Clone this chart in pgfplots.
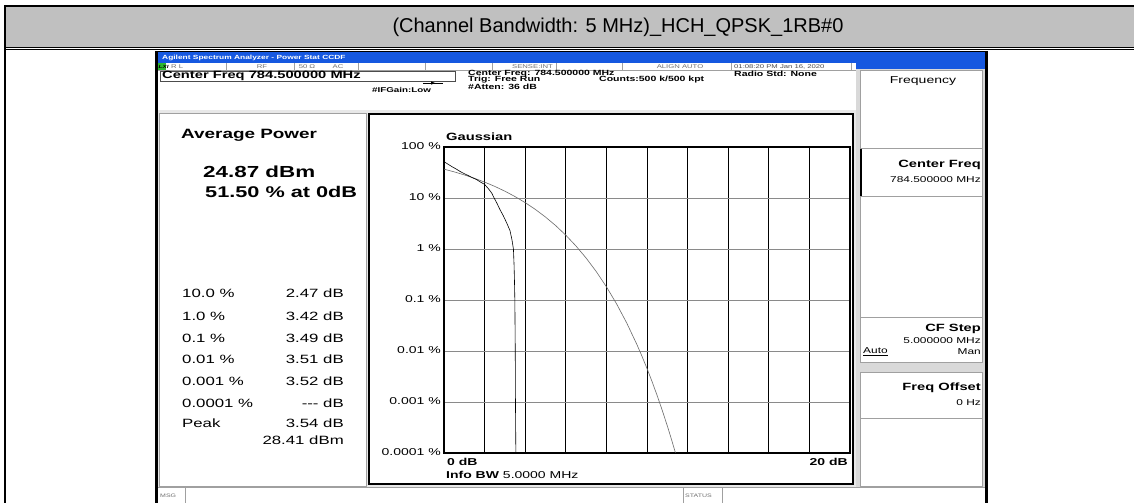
\documentclass[border=0pt]{standalone}
\usepackage{fontspec}
\setmainfont{Liberation Sans}
\newfontfamily\sw[FakeStretch=1.4]{Liberation Sans}
\usepackage{pgfplots}
\pgfplotsset{compat=1.18}
\newcommand{\fs}[1]{\fontsize{#1}{#1}\selectfont}
\definecolor{band}{HTML}{C0C0C0}
\definecolor{xpblue}{HTML}{1658E0}
\definecolor{panelgray}{HTML}{A0A0A0}
\definecolor{bggray}{HTML}{E8E8E8}
\definecolor{gridgray}{HTML}{8A8A8A}
\definecolor{gauss}{HTML}{6A6A6A}
\definecolor{stat}{HTML}{707070}
\definecolor{lxi}{HTML}{2EB82E}

\pgfplotstableread{
x y
0 51.5
0.2 46
0.4 41
0.6 37
0.8 33
1.0 30
1.2 27.5
1.4 25
1.6 23
1.8 20.5
2.0 18.5
2.2 15
2.35 12.5
2.47 10
2.6 8
2.75 6
2.92 4.5
3.08 3.3
3.25 2.3
3.35 1.5
3.42 1.0
3.45 0.5
3.47 0.25
3.49 0.1
3.51 0.01
3.52 0.001
3.54 0.0001
11.4 0.0001
}\measured

\pgfplotstableread{
x y
0 36.79
0.5 32.56
1 28.40
1.5 24.35
2 20.49
2.5 16.90
3 13.60
3.5 10.66
4 8.11
4.5 5.97
5 4.23
5.5 2.88
6 1.867
6.5 1.148
7 0.666
7.5 0.361
8 0.1817
8.5 0.0842
9 0.0355
9.5 0.01347
9.75 0.00794
10 0.00454
10.25 0.00251
10.5 0.001338
10.75 0.000689
11 0.000341
11.2 0.000188
11.4 0.000101
}\gaussian

\begin{document}
\begin{tikzpicture}
\path[use as bounding box] (0pt,0pt) rectangle (1134pt,-503pt);
\begin{scope}[x=1pt,y=-1pt]
% table
\fill[white] (0,0) rectangle (1134,503);
\fill[band] (5,6) rectangle (1134,48);
\draw[line width=2pt] (4,6) -- (1134,6);
\draw[line width=1pt] (5,47.5)--(1134,47.5);
\draw[line width=1pt] (5,50)--(1134,50);
\draw[line width=2pt] (5,5)--(5,503);
\node[font=\fs{20}] at (618,27.5) {(Channel Bandwidth: 5 MHz)\_HCH\_QPSK\_1RB\#0};
% screenshot frame
\fill[black] (155,51) rectangle (988,503);
\fill[white] (158,52) rectangle (985,503);
\fill[xpblue] (158,52) rectangle (985,63);
\fill[xpblue] (856,63) rectangle (985,69);
\node[anchor=west,inner sep=0pt,text=white] at (162,57.5) {\sw\bfseries\fs{6}Agilent Spectrum Analyzer - Power Stat CCDF};
% status row
\fill[lxi] (158,63) rectangle (166,70);
\node[anchor=west,inner sep=0pt] at (158.5,66.5) {\sw\bfseries\itshape\fs{4.5}LXI};
\draw[panelgray,line width=0.5pt] (158,70)--(856,70);
\foreach \xx in {226,294,358,425,492,556,622,731,851}{\draw[panelgray,line width=0.5pt] (\xx,63)--(\xx,70);}
\begin{scope}[every node/.style={inner sep=0pt,text=stat}]
\node[anchor=west] at (171,66.5) {\sw\fs{5.5}R L};
\node at (262,66.5) {\sw\fs{5.5}RF};
\node at (307,66.5) {\sw\fs{5.5}50 Ω};
\node at (338,66.5) {\sw\fs{5.5}AC};
\node[anchor=east] at (553,66.5) {\sw\fs{5.5}SENSE:INT};
\node at (680,66.5) {\sw\fs{5.5}ALIGN AUTO};
\node[anchor=west,text=black!70] at (734,66.5) {\sw\fs{5.5}01:08:20 PM Jan 16, 2020};
\end{scope}
% center freq box
\draw[black!70,line width=0.7pt] (160,71) rectangle (455,81.5);
\node[anchor=west,inner sep=0pt] at (162,76.3) {\sw\bfseries\fs{10.5}Center Freq 784.500000 MHz};
\begin{scope}[every node/.style={inner sep=0pt,anchor=west}]
\node at (468,73.5) {\sw\bfseries\fs{7.5}Center Freq: 784.500000 MHz};
\node at (468,80) {\sw\bfseries\fs{7.5}Trig: Free Run};
\node at (468,86.5) {\sw\bfseries\fs{7.5}\#Atten: 36 dB};
\node at (599,80) {\sw\bfseries\fs{7.5}Counts:500 k/500 kpt};
\node at (734,73.5) {\sw\bfseries\fs{7.5}Radio Std: None};
\node at (372,89.5) {\sw\bfseries\fs{7}\#IFGain:Low};
\end{scope}
\draw[line width=0.6pt] (423,83)--(443,83);
\fill (431,81.3)--(435,83)--(431,84.7)--cycle;
% lower area
\fill[bggray] (158,110) rectangle (856,487);
% left panel
\filldraw[fill=white,draw=panelgray,line width=0.8pt] (159.5,113.5) rectangle (366,486);
\begin{scope}[every node/.style={inner sep=0pt}]
\node[anchor=west] at (181,135) {\sw\bfseries\fs{13.5}Average Power};
\node[anchor=west] at (203,172) {\sw\bfseries\fs{16}24.87 dBm};
\node[anchor=west] at (205,192) {\sw\bfseries\fs{15.5}51.50 \% at 0dB};
\foreach \yy/\la/\lb in {293/10.0 \%/2.47 dB, 316/1.0 \%/3.42 dB, 338/0.1 \%/3.49 dB, 359/0.01 \%/3.51 dB, 381/0.001 \%/3.52 dB, 403/0.0001 \%/{{-}{-}{-} dB}, 423/Peak/3.54 dB}{
  \node[anchor=west] at (182,\yy) {\sw\fs{12}\la};
  \node[anchor=east] at (344,\yy) {\sw\fs{12}\lb};
}
\node[anchor=east] at (344,440) {\sw\fs{12}28.41 dBm};
\end{scope}
% graph frame
\filldraw[fill=white,draw=black,line width=2.5pt] (369,114) rectangle (853,484);
\node[anchor=west,inner sep=0pt] at (446,137) {\sw\bfseries\fs{10.5}Gaussian};
\node[anchor=west,inner sep=0pt] at (447,462) {\sw\bfseries\fs{10}0 dB};
\node[anchor=east,inner sep=0pt] at (848,462) {\sw\bfseries\fs{10}20 dB};
\node[anchor=west,inner sep=0pt] at (446,474.5) {\sw\fs{10}\textbf{Info BW} 5.0000 MHz};
% right panel
\fill[black!15] (856,69) rectangle (985,487);
\foreach \ya/\yb in {70/148,148/196,196/317,317/362,372/418,418/486}{
  \filldraw[fill=white,draw=panelgray,line width=0.8pt] (860,\ya) rectangle (982.5,\yb);
}
\draw[black,line width=2pt] (861,148.5)--(861,195.5);
\begin{scope}[every node/.style={inner sep=0pt}]
\node at (923,81) {\sw\fs{10}Frequency};
\node[anchor=east] at (981,165) {\sw\bfseries\fs{10.5}Center Freq};
\node[anchor=east] at (981,180) {\sw\fs{8.5}784.500000 MHz};
\node[anchor=east] at (981,329) {\sw\bfseries\fs{10.5}CF Step};
\node[anchor=east] at (981,341) {\sw\fs{8.5}5.000000 MHz};
\node[anchor=west] at (863,352) {\sw\fs{8.5}\underline{Auto}};
\node[anchor=east] at (981,352) {\sw\fs{8.5}Man};
\node[anchor=east] at (981,388) {\sw\bfseries\fs{10.5}Freq Offset};
\node[anchor=east] at (981,403) {\sw\fs{8.5}0 Hz};
\end{scope}
% bottom bar
\draw[panelgray,line width=0.6pt] (158,487.5)--(985,487.5);
\draw[panelgray,line width=0.6pt] (185,488)--(185,503);
\draw[panelgray,line width=0.6pt] (683,488)--(683,503) (722,488)--(722,503);
\node[anchor=west,inner sep=0pt,text=stat] at (160,495.5) {\sw\fs{5}MSG};
\node[anchor=west,inner sep=0pt,text=stat] at (685,495.5) {\sw\fs{5}STATUS};
\end{scope}
\begin{axis}[
  at={(444pt,-453pt)}, anchor=south west,
  scale only axis, width=406pt, height=306pt,
  xmin=0, xmax=20, ymin=1e-4, ymax=100, ymode=log,
  xtick={0,2,...,20}, xticklabels={},
  ytick={1e-4,1e-3,1e-2,1e-1,1,10,100},
  yticklabels={0.0001 \%,0.001 \%,0.01 \%,0.1 \%,1 \%,10 \%,100 \%},
  yticklabel style={font=\sw\fs{10}, anchor=east, inner sep=0pt, xshift=-3pt, yshift=1pt},
  major tick length=0pt, yminorticks=false,
  grid=major,
  x grid style={black, line width=0.7pt},
  y grid style={gridgray, line width=1pt},
  axis line style={line width=2.4pt},
]
\addplot[gauss, line width=0.6pt] table[x=x,y=y] {\gaussian};
\addplot[black, line width=0.6pt] table[x=x,y=y] {\measured};
\end{axis}
\end{tikzpicture}
\end{document}
